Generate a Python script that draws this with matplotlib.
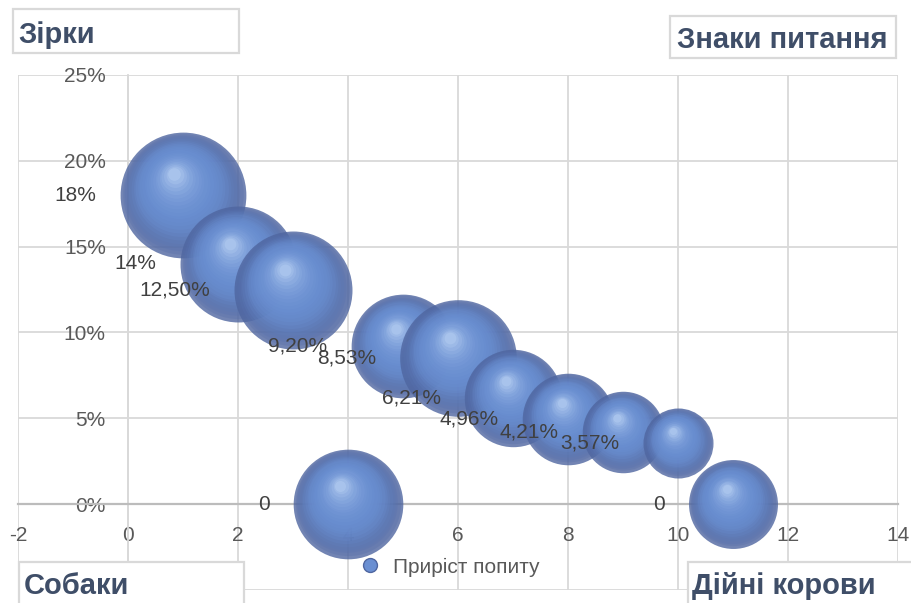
"""BCG-style bubble chart: demand growth vs position."""

import matplotlib

matplotlib.use("Agg")

import matplotlib.pyplot as plt
import numpy as np
from matplotlib.colors import to_rgb
from matplotlib.lines import Line2D
from matplotlib.patches import Rectangle
from matplotlib.ticker import FuncFormatter
from matplotlib.transforms import offset_copy

# ---- data ----
x_vals = [1, 2, 3, 4, 5, 6, 7, 8, 9, 10, 11]
growth = [0.18, 0.14, 0.125, 0.0, 0.092, 0.0853, 0.0621, 0.0496, 0.0421, 0.0357, 0.0]
bubble_size = [100, 85, 88, 76, 68, 86, 60, 53, 42, 31, 50]
point_labels = ["18%", "14%", "12,50%", "0", "9,20%", "8,53%", "6,21%",
                "4,96%", "4,21%", "3,57%", "0"]
x_ticks = [-2, 0, 2, 4, 6, 8, 10, 12, 14]
y_ticks = [-0.05, 0.0, 0.05, 0.10, 0.15, 0.20, 0.25]
series_name = "Приріст попиту"
quadrant_names = ["Зірки", "Знаки питання", "Собаки", "Дійні корови"]

W, H = 912, 603
FONT = ["Liberation Sans", "DejaVu Sans"]
plt.rcParams["font.family"] = FONT
plt.rcParams["axes.unicode_minus"] = False

RIM = "#4f66a0"
BODY = "#6a8fd2"
GLOSS = "#c4dbf9"
GRID = "#d9d9d9"
SIZE_SCALE = 82.0


def mix(c1, c2, t):
    """Blend two colours."""
    return tuple(np.array(to_rgb(c1)) * (1 - t) + np.array(to_rgb(c2)) * t)


def sphere_colour(t):
    """Colour of a shading layer, t runs from rim (0) to highlight (1)."""
    if t < 0.3:
        return mix(RIM, BODY, t / 0.3)
    return mix(BODY, GLOSS, ((t - 0.3) / 0.7) ** 2.6)


fig = plt.figure(figsize=(W / 100, H / 100), dpi=100)
ax = fig.add_axes([18 / W, 1 - 590 / H, 880 / W, 515 / H])

ax.set_xlim(-2, 14)
ax.set_ylim(-0.05, 0.25)
ax.set_xticks(x_ticks)
ax.set_yticks(y_ticks)
ax.yaxis.set_major_formatter(FuncFormatter(lambda v, p: "" if v < -1e-9 else f"{v * 100:.0f}%"))
ax.set_axisbelow(True)
ax.grid(True, color=GRID, linewidth=1.3)
for gl in ax.get_xgridlines() + ax.get_ygridlines():
    gl.set_clip_on(False)

for side in ("top", "right"):
    ax.spines[side].set_visible(False)
ax.spines["left"].set_position(("data", 0))
ax.spines["bottom"].set_position(("data", 0))
ax.spines["left"].set_color(GRID)
ax.spines["left"].set_linewidth(1.3)
ax.spines["bottom"].set_color("#bcbcbc")
ax.spines["bottom"].set_linewidth(1.6)
ax.tick_params(length=0, pad=16, labelsize=15, labelcolor="#595959")

# bubbles, each built from stacked layers to fake the 3D sphere look
n_layers = 22
for i in range(len(x_vals)):
    s = bubble_size[i] * SIZE_SCALE
    r = np.sqrt(s) / 2
    z = 3 + i * 0.01
    ax.scatter([x_vals[i]], [growth[i]], s=s, color=RIM, alpha=0.8,
               linewidths=0, zorder=z)
    for k in range(1, n_layers + 1):
        t = k / n_layers
        f = 1 - 0.9 * t
        tr = offset_copy(ax.transData, fig=fig, x=-0.14 * r * t, y=0.34 * r * t,
                         units="points")
        ax.scatter([x_vals[i]], [growth[i]], s=s * f * f,
                   color=sphere_colour(t), alpha=0.3,
                   linewidths=0, transform=tr, zorder=z)
    ax.annotate(point_labels[i], (x_vals[i], growth[i]),
                xytext=(-(r + 17), 0), textcoords="offset points",
                ha="right", va="center", fontsize=15, color="#404040",
                zorder=10)

# legend
handle = Line2D([], [], marker="o", linestyle="", markersize=10,
                markerfacecolor=BODY, markeredgecolor=RIM)
fig.legend([handle], [series_name], loc="center", bbox_to_anchor=(0.487, 1 - 567 / H),
           frameon=False, fontsize=15, labelcolor="#595959",
           handletextpad=0.1, borderpad=0)

# quadrant captions
boxes = [(13, 9, 239, 53), (670, 16, 896, 58), (19, 562, 244, 606), (688, 562, 915, 606)]
text_pos = [(18, 43), (677, 48), (24, 594), (692, 594)]
for name, (x0, y0, x1, y1), (tx, ty) in zip(quadrant_names, boxes, text_pos):
    fig.add_artist(Rectangle((x0 / W, 1 - y1 / H), (x1 - x0) / W, (y1 - y0) / H,
                             transform=fig.transFigure, facecolor="white",
                             edgecolor=GRID, linewidth=1.6, zorder=5))
    fig.text(tx / W, 1 - ty / H, name, fontsize=21, fontweight="bold",
             color="#3f4e68", ha="left", va="baseline", zorder=6)

fig.savefig("out.png", dpi=100)
